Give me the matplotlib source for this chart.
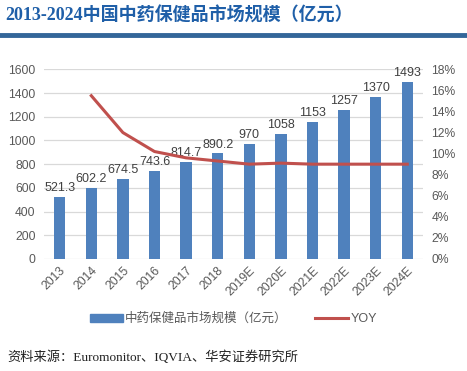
import matplotlib
matplotlib.use('Agg')
import matplotlib.pyplot as plt
from matplotlib.patches import Patch
from matplotlib.lines import Line2D
from matplotlib.ticker import FuncFormatter

plt.rcParams['font.family'] = ['Liberation Sans', 'Noto Sans CJK SC', 'DejaVu Sans']

# 数据
years = ['2013', '2014', '2015', '2016', '2017', '2018',
         '2019E', '2020E', '2021E', '2022E', '2023E', '2024E']
market = [521.3, 602.2, 674.5, 743.6, 814.7, 890.2,
          970, 1058, 1153, 1257, 1370, 1493]
market_labels = ['521.3', '602.2', '674.5', '743.6', '814.7', '890.2',
                 '970', '1058', '1153', '1257', '1370', '1493']
yoy = [None, 15.5, 12.0, 10.2, 9.6, 9.3, 9.0, 9.1, 9.0, 9.0, 9.0, 9.0]

bar_c = '#4F81BD'
line_c = '#C0504D'
txt_c = '#404040'

fig = plt.figure(figsize=(4.67, 3.71), dpi=100)
ax = fig.add_axes([0.094, 0.302, 0.812, 0.511])
ax2 = ax.twinx()

x = list(range(len(years)))
ax.bar(x, market, width=0.36, color=bar_c, zorder=3)
for xi, v, s in zip(x, market, market_labels):
    ax.text(xi, v + 25, s, ha='center', va='bottom', fontsize=9, color=txt_c, zorder=4)

ax.set_xlim(-0.5, len(years) - 0.5)
ax.set_ylim(0, 1600)
ax.set_yticks(range(0, 1601, 200))
ax.grid(axis='y', color='#D9D9D9', linewidth=0.9, zorder=0)
ax.set_axisbelow(True)
for sp in ax.spines.values():
    sp.set_visible(False)
for sp in ax2.spines.values():
    sp.set_visible(False)
ax.tick_params(length=0, labelsize=8.7, colors='#595959', pad=6)
ax.set_xticks(x)
ax.set_xticklabels(years, rotation=45, ha='right', rotation_mode='anchor')
ax.tick_params(axis='x', pad=4)

yx = [xi for xi, v in zip(x, yoy) if v is not None]
yv = [v for v in yoy if v is not None]
ax2.plot(yx, yv, color=line_c, linewidth=2.2, zorder=5)
ax2.set_ylim(0, 18)
ax2.set_yticks(range(0, 19, 2))
ax2.yaxis.set_major_formatter(FuncFormatter(lambda v, p: '%d%%' % v))
ax2.tick_params(length=0, labelsize=8.7, colors='#595959', pad=6)

# 标题
fig.text(0.012, 0.958, '2013-2024中国中药保健品市场规模（亿元）', fontsize=13,
         fontweight='bold', color='#1F5FA8', va='center',
         family=['Liberation Serif', 'Noto Sans CJK SC'])
fig.add_artist(Line2D([0, 0.995], [0.906, 0.906], color='#336699', linewidth=3.5,
                      transform=fig.transFigure))

# 图例
handles = [Patch(color=bar_c), Line2D([0], [0], color=line_c, linewidth=2.2)]
fig.legend(handles, ['中药保健品市场规模（亿元）', 'YOY'], loc='center',
           bbox_to_anchor=(0.5, 0.14), ncol=2, frameon=False, fontsize=9,
           handlelength=2.6, handleheight=0.6, columnspacing=2.2,
           handletextpad=0.2, labelcolor='#595959')

fig.text(0.015, 0.038, '资料来源：Euromonitor、IQVIA、华安证券研究所', fontsize=9.5,
         color='#222222', va='center', family=['Liberation Serif', 'Noto Sans CJK SC'])

fig.savefig('out.png', dpi=100)
